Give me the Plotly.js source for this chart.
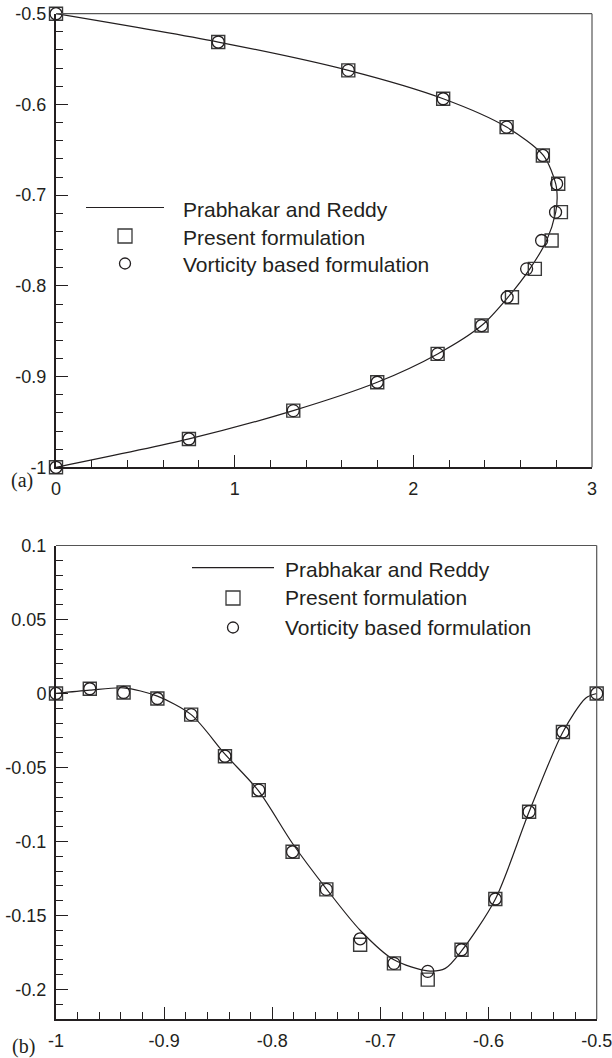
<!DOCTYPE html>
<html>
<head>
<meta charset="utf-8">
<script src="https://cdn.plot.ly/plotly-3.0.1.min.js"></script>
<style>html,body{margin:0;padding:0;background:#fff;}#chart{width:612px;height:1058px;}</style>
</head>
<body>
<div id="chart"></div>
<script>
// ---------- Panel (a) data ----------
const aMarkY = [-0.5,-0.53125,-0.5625,-0.59375,-0.625,-0.65625,-0.6875,-0.71875,-0.75,-0.78125,-0.8125,-0.84375,-0.875,-0.90625,-0.9375,-0.96875,-1];
const aPresentX = [0,0.908,1.636,2.167,2.522,2.725,2.811,2.826,2.774,2.680,2.552,2.382,2.136,1.798,1.328,0.744,0];
const aVorticityX = [0,0.908,1.636,2.167,2.522,2.725,2.802,2.796,2.718,2.634,2.525,2.382,2.136,1.798,1.328,0.744,0];
const aRefY = [-0.5,-0.53125,-0.5625,-0.59375,-0.625,-0.65625,-0.6875,-0.703125,-0.71875,-0.75,-0.78125,-0.8125,-0.84375,-0.875,-0.90625,-0.9375,-0.96875,-1];
const aRefX = [0,0.908,1.636,2.167,2.522,2.728,2.797,2.805,2.797,2.746,2.652,2.530,2.382,2.136,1.798,1.328,0.744,0];

// ---------- Panel (b) data ----------
const bMarkX = [-1,-0.96875,-0.9375,-0.90625,-0.875,-0.84375,-0.8125,-0.78125,-0.75,-0.71875,-0.6875,-0.65625,-0.625,-0.59375,-0.5625,-0.53125,-0.5];
const bPresentY = [0,0.0032,0.0007,-0.0034,-0.0143,-0.0424,-0.0653,-0.107,-0.1324,-0.1698,-0.1824,-0.1934,-0.1732,-0.1389,-0.0799,-0.026,0];
const bVorticityY = [0,0.0032,0.0007,-0.0034,-0.0143,-0.0424,-0.0653,-0.107,-0.1324,-0.1658,-0.1824,-0.1878,-0.1732,-0.1389,-0.0799,-0.026,0];
const bRefX = [-1,-0.96875,-0.9375,-0.90625,-0.875,-0.84375,-0.8125,-0.78125,-0.75,-0.71875,-0.6875,-0.65625,-0.64,-0.625,-0.59375,-0.5625,-0.53125,-0.51,-0.5];
const bRefY = [0,0.0022,0.0038,-0.0018,-0.0143,-0.041,-0.066,-0.1014,-0.132,-0.160,-0.180,-0.1875,-0.1858,-0.174,-0.139,-0.08,-0.026,-0.003,0];

// ---------- Tick labels ----------
const aXTickVals = [0,1,2,3];
const aXTickText = ['0','1','2','3'];
const aYTickVals = [-1,-0.9,-0.8,-0.7,-0.6,-0.5];
const aYTickText = ['-1','-0.9','-0.8','-0.7','-0.6','-0.5'];
const bXTickVals = [-1,-0.9,-0.8,-0.7,-0.6,-0.5];
const bXTickText = ['-1','-0.9','-0.8','-0.7','-0.6','-0.5'];
const bYTickVals = [-0.2,-0.15,-0.1,-0.05,0,0.05,0.1];
const bYTickText = ['-0.2','-0.15','-0.1','-0.05','0','0.05','0.1'];

const seriesNames = ['Prabhakar and Reddy','Present formulation','Vorticity based formulation'];

const W = 612, H = 1058;
const fx = p => p / W;
const fy = p => 1 - p / H;
const ink = '#231f20';

const lineStyle = {color: ink, width: 1.2, shape: 'spline', smoothing: 0.8};
const sqMarker = {symbol: 'square-open', size: 13, color: '#3a3a3a', line: {width: 1.4, color: '#3a3a3a'}};
const ciMarker = {symbol: 'circle-open', size: 12, color: ink, line: {width: 1.3, color: ink}};

const traces = [
  {x: aRefX, y: aRefY, mode: 'lines', line: lineStyle, name: seriesNames[0], xaxis: 'x', yaxis: 'y', showlegend: false},
  {x: aPresentX, y: aMarkY, mode: 'markers', marker: sqMarker, name: seriesNames[1], xaxis: 'x', yaxis: 'y', cliponaxis: false, showlegend: false},
  {x: aVorticityX, y: aMarkY, mode: 'markers', marker: ciMarker, name: seriesNames[2], xaxis: 'x', yaxis: 'y', cliponaxis: false, showlegend: false},
  {x: bRefX, y: bRefY, mode: 'lines', line: lineStyle, name: seriesNames[0], xaxis: 'x2', yaxis: 'y2', showlegend: false},
  {x: bMarkX, y: bPresentY, mode: 'markers', marker: sqMarker, name: seriesNames[1], xaxis: 'x2', yaxis: 'y2', cliponaxis: false, showlegend: false},
  {x: bMarkX, y: bVorticityY, mode: 'markers', marker: ciMarker, name: seriesNames[2], xaxis: 'x2', yaxis: 'y2', cliponaxis: false, showlegend: false}
];

const tickFont = {family: 'Liberation Sans, Arial, sans-serif', size: 18, color: ink};
function axis(extra) {
  return Object.assign({
    showline: true, linewidth: 2, linecolor: ink, mirror: false,
    ticks: 'inside', ticklen: 12, tickwidth: 1.2, tickcolor: ink,
    tickmode: 'array', showgrid: false, zeroline: false,
    tickfont: tickFont, fixedrange: true, ticklabelstandoff: 4,
    ticklabeloverflow: 'allow'
  }, extra);
}
const minor = (d) => ({dtick: d, ticks: 'inside', ticklen: 7, tickwidth: 1, tickcolor: ink, showgrid: false});

const layout = {
  width: W, height: H,
  margin: {l: 0, r: 0, t: 0, b: 0},
  paper_bgcolor: '#fff', plot_bgcolor: '#fff',
  showlegend: false,
  xaxis: axis({domain: [fx(56), fx(592)], range: [0, 3], tickvals: aXTickVals, ticktext: aXTickText, minor: minor(0.2), anchor: 'y'}),
  yaxis: axis({domain: [fy(467.3), fy(13.7)], range: [-1, -0.5], tickvals: aYTickVals, ticktext: aYTickText, minor: minor(0.02), anchor: 'x'}),
  xaxis2: axis({domain: [fx(56), fx(596.7)], range: [-1, -0.5], tickvals: bXTickVals, ticktext: bXTickText, minor: minor(0.02), anchor: 'y2'}),
  yaxis2: axis({domain: [fy(1019), fy(545.5)], range: [-0.22, 0.1], tickvals: bYTickVals, ticktext: bYTickText, minor: minor(0.01), anchor: 'x2'}),
  shapes: [
    {type: 'line', xref: 'x domain', yref: 'y domain', x0: 0, x1: 1, y0: 1, y1: 1, line: {color: '#555', width: 1.2}},
    {type: 'line', xref: 'x domain', yref: 'y domain', x0: 1, x1: 1, y0: 0, y1: 1, line: {color: '#555', width: 1.2}},
    {type: 'line', xref: 'x2 domain', yref: 'y2 domain', x0: 0, x1: 1, y0: 1, y1: 1, line: {color: '#555', width: 1.2}},
    {type: 'line', xref: 'x2 domain', yref: 'y2 domain', x0: 1, x1: 1, y0: 0, y1: 1, line: {color: '#555', width: 1.2}},
    {type: 'line', xref: 'paper', yref: 'paper', x0: fx(86), x1: fx(164), y0: fy(207.5), y1: fy(207.5), line: {color: ink, width: 1.2}},
    {type: 'rect', xref: 'paper', yref: 'paper', x0: fx(118), x1: fx(132), y0: fy(243), y1: fy(229), line: {color: '#3a3a3a', width: 1.3}},
    {type: 'circle', xref: 'paper', yref: 'paper', x0: fx(119.5), x1: fx(130.5), y0: fy(269), y1: fy(258), line: {color: ink, width: 1.3}},
    {type: 'line', xref: 'paper', yref: 'paper', x0: fx(192), x1: fx(274), y0: fy(567.7), y1: fy(567.7), line: {color: ink, width: 1.2}},
    {type: 'rect', xref: 'paper', yref: 'paper', x0: fx(226), x1: fx(240), y0: fy(605), y1: fy(591), line: {color: '#3a3a3a', width: 1.3}},
    {type: 'circle', xref: 'paper', yref: 'paper', x0: fx(227.5), x1: fx(238.5), y0: fy(633), y1: fy(622), line: {color: ink, width: 1.3}}
  ],
  annotations: [
    {xref: 'paper', yref: 'paper', x: fx(181), y: fy(209.5), xanchor: 'left', yanchor: 'middle', text: seriesNames[0], showarrow: false, font: {family: 'Liberation Sans, Arial, sans-serif', size: 21, color: ink}},
    {xref: 'paper', yref: 'paper', x: fx(181), y: fy(237.5), xanchor: 'left', yanchor: 'middle', text: seriesNames[1], showarrow: false, font: {family: 'Liberation Sans, Arial, sans-serif', size: 21, color: ink}},
    {xref: 'paper', yref: 'paper', x: fx(181), y: fy(264.5), xanchor: 'left', yanchor: 'middle', text: seriesNames[2], showarrow: false, font: {family: 'Liberation Sans, Arial, sans-serif', size: 21, color: ink}},
    {xref: 'paper', yref: 'paper', x: fx(283), y: fy(569), xanchor: 'left', yanchor: 'middle', text: seriesNames[0], showarrow: false, font: {family: 'Liberation Sans, Arial, sans-serif', size: 21, color: ink}},
    {xref: 'paper', yref: 'paper', x: fx(283), y: fy(597), xanchor: 'left', yanchor: 'middle', text: seriesNames[1], showarrow: false, font: {family: 'Liberation Sans, Arial, sans-serif', size: 21, color: ink}},
    {xref: 'paper', yref: 'paper', x: fx(283), y: fy(627.3), xanchor: 'left', yanchor: 'middle', text: seriesNames[2], showarrow: false, font: {family: 'Liberation Sans, Arial, sans-serif', size: 21, color: ink}},
    {xref: 'paper', yref: 'paper', x: fx(22), y: fy(480), xanchor: 'center', yanchor: 'middle', text: '(a)', showarrow: false, font: {family: 'Liberation Serif, Times New Roman, serif', size: 20, color: ink}},
    {xref: 'paper', yref: 'paper', x: fx(23), y: fy(1046), xanchor: 'center', yanchor: 'middle', text: '(b)', showarrow: false, font: {family: 'Liberation Serif, Times New Roman, serif', size: 20, color: ink}}
  ]
};

Plotly.newPlot('chart', traces, layout, {staticPlot: true, displayModeBar: false});
</script>
</body>
</html>
